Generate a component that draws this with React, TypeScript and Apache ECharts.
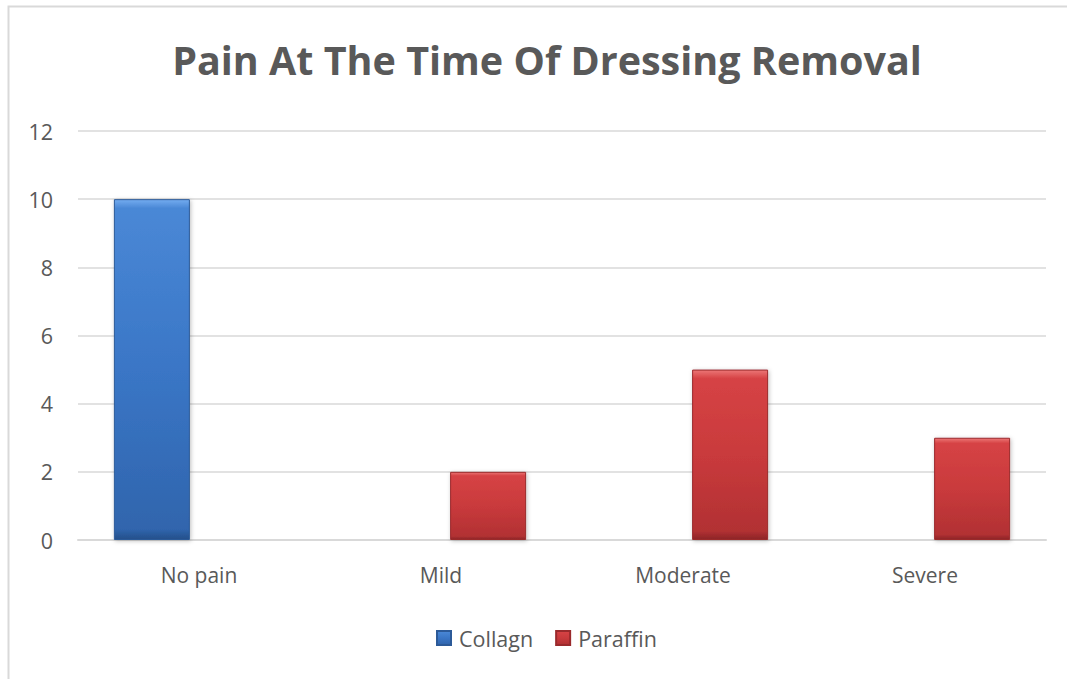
import React, { useEffect, useRef } from "react";
import * as echarts from "echarts";

const categories = ["No pain", "Mild", "Moderate", "Severe"];
const collagnValues = [10, 0, 0, 0];
const paraffinValues = [0, 2, 5, 3];
const seriesNames = ["Collagn", "Paraffin"];
const titleText = "Pain At The Time Of Dressing Removal";

const blueFill = new echarts.graphic.LinearGradient(0, 0, 0, 1, [
  { offset: 0, color: "#74acf0" },
  { offset: 0.025, color: "#4a88d6" },
  { offset: 0.5, color: "#3a76c6" },
  { offset: 0.97, color: "#3065ad" },
  { offset: 1, color: "#244f8a" },
]);
const redFill = new echarts.graphic.LinearGradient(0, 0, 0, 1, [
  { offset: 0, color: "#ec7676" },
  { offset: 0.05, color: "#d64345" },
  { offset: 0.5, color: "#c93a3c" },
  { offset: 0.95, color: "#b23133" },
  { offset: 1, color: "#8c2527" },
]);

export default function App() {
  const ref = useRef<HTMLDivElement>(null);
  useEffect(() => {
    if (!ref.current) return;
    const chart = echarts.init(ref.current, null, { renderer: "svg" });
    const font = "'Open Sans', Lato, sans-serif";
    chart.setOption({
      animation: false,
      backgroundColor: "#ffffff",
      title: {
        text: titleText,
        left: 542,
        textAlign: "center",
        top: 35,
        textStyle: { fontFamily: font, fontSize: 39.5, fontWeight: "bold", color: "#595959" },
      },
      graphic: [
        {
          type: "rect",
          shape: { x: 8.5, y: 6.5, width: 1200, height: 800 },
          style: { fill: "none", stroke: "#d9d9d9", lineWidth: 2 },
          silent: true,
        },
      ],
      legend: {
        top: 622,
        left: 431,
        itemWidth: 14,
        itemHeight: 14,
        itemGap: 22,
        icon: "rect",
        textStyle: { fontFamily: font, fontSize: 21.5, color: "#595959", padding: [0, 0, 0, 3] },
        data: seriesNames,
      },
      grid: { left: 78, right: 21, top: 131, bottom: 139, containLabel: false },
      xAxis: {
        type: "category",
        data: categories,
        axisLine: { lineStyle: { color: "#d9d9d9", width: 2 } },
        axisTick: { show: false },
        axisLabel: { fontFamily: font, fontSize: 21, color: "#595959", margin: 24 },
      },
      yAxis: {
        type: "value",
        min: 0,
        max: 12,
        interval: 2,
        axisLine: { show: false },
        axisTick: { show: false },
        splitLine: { lineStyle: { color: "#d9d9d9", width: 1.5 } },
        axisLabel: { fontFamily: font, fontSize: 21.5, color: "#595959", margin: 25 },
      },
      series: [
        {
          name: seriesNames[0],
          type: "bar",
          data: collagnValues,
          barWidth: 76,
          barGap: "24%",
          itemStyle: {
            color: blueFill,
            borderColor: "#2c5a98",
            borderWidth: 1,
            shadowColor: "rgba(0,0,0,0.25)",
            shadowBlur: 4,
            shadowOffsetX: 1,
            shadowOffsetY: 1,
          },
        },
        {
          name: seriesNames[1],
          type: "bar",
          data: paraffinValues,
          barWidth: 76,
          itemStyle: {
            color: redFill,
            borderColor: "#9a2a2c",
            borderWidth: 1,
            shadowColor: "rgba(0,0,0,0.25)",
            shadowBlur: 4,
            shadowOffsetX: 1,
            shadowOffsetY: 1,
          },
        },
      ],
    });
    return () => chart.dispose();
  }, []);
  return (
    <div
      ref={ref}
      style={{ position: "absolute", left: 0, top: 0, width: 1067, height: 679 }}
    />
  );
}
